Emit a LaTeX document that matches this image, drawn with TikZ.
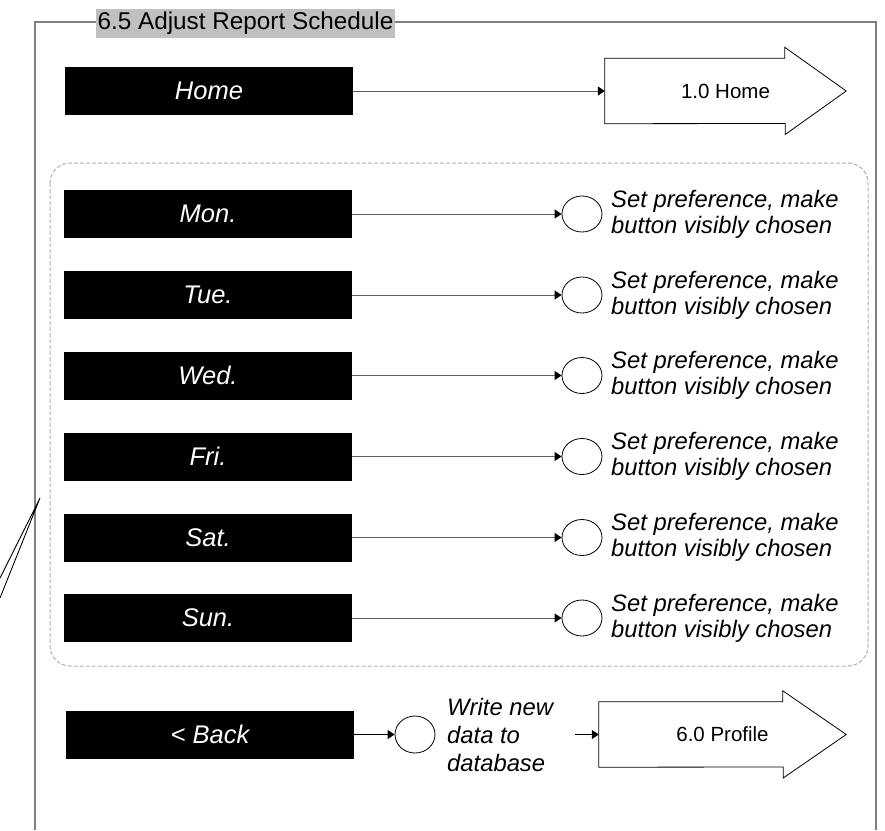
\documentclass[tikz,border=0pt]{standalone}
\usepackage{fontspec}
\setmainfont{Liberation Sans}
\usetikzlibrary{arrows.meta,shapes.geometric}
\definecolor{framec}{HTML}{808080}
\definecolor{titlegray}{HTML}{C0C0C0}
\definecolor{dashc}{HTML}{B0B0B0}
\definecolor{connc}{HTML}{606060}
\begin{document}
\begin{tikzpicture}[x=1pt,y=-1pt,
  btn/.style={fill=black,text=white,minimum width=288pt,minimum height=48pt,inner sep=0pt,font=\fontsize{25.5}{30}\selectfont\itshape},
  act/.style={draw=black,line width=0.8pt,ellipse,minimum width=40pt,minimum height=36pt,inner sep=0pt},
  note/.style={align=left,anchor=west,inner sep=0pt,font=\fontsize{23.8}{26}\selectfont\itshape},
  bigarrow/.style={minimum height=65pt,inner sep=0pt,font=\fontsize{20.5}{24}\selectfont},
  conn/.style={draw=connc,line width=1pt,-{Triangle[length=7pt,width=9pt,color=black]}},
  outline/.style={draw=black,line width=0.8pt,line join=miter}
]
\useasboundingbox (0,0) rectangle (885,830);

% frame
\draw[framec,line width=1.3pt] (35,830) -- (35,22) -- (876,22) -- (876,830);
\node[fill=titlegray,inner sep=0pt,minimum width=299pt,minimum height=29pt,font=\fontsize{24.3}{28}\selectfont] (title) at (245.5,23.5) {6.5 Adjust Report Schedule};

% callout lines on the left
\coordinate (cp) at (40,498);
\coordinate (cl1) at (0,578);
\coordinate (cl2) at (0,598);
\draw[black,line width=0.9pt] (cl1) -- (cp) -- (cl2);

% Home
\node[btn] (home) at (209,91) {Home};
\node[bigarrow,minimum width=241pt] (h1) at (725.5,91) {1.0 Home};
\draw[outline] (h1.north west) -- ++(180,0) -- ++(0,-11) -- (h1.east) -- ++(-61,43.5) -- ++(0,-11) -- (h1.south west) -- cycle;
\draw[conn] (home) -- (h1.west);

% dashed group
\draw[dashc,line width=1pt,dash pattern=on 4pt off 2pt,rounded corners=20pt] (50,163) rectangle (868,666);

% days
\foreach \n/\lab/\y in {mon/Mon./214,tue/Tue./295,wed/Wed./375.5,fri/Fri./456.5,sat/Sat./537.5,sun/Sun./618}{
  \node[btn] (\n) at (208,\y) {\lab};
  \node[act] (\n c) at (582,\y) {};
  \node[note] (\n t) at (611,\y) {Set preference, make\\button visibly chosen};
  \draw[conn] (\n) -- (\n c);
}

% Back
\node[btn] (back) at (210,734.5) {< Back};
\node[act,minimum height=37pt] (backc) at (415,734.5) {};
\node[note,font=\fontsize{23.8}{28}\selectfont\itshape] (backt) at (447,734.5) {Write new\\data to\\database};
\draw[conn,draw=black] (back) -- (backc);

\node[bigarrow,minimum width=247pt] (p1) at (722.5,734.5) {6.0 Profile};
\draw[outline] (p1.north west) -- ++(184,0) -- ++(0,-11) -- (p1.east) -- ++(-63,43.5) -- ++(0,-11) -- (p1.south west) -- cycle;
\coordinate (ps) at (575,734.5);
\draw[conn,draw=black] (ps) -- (p1.west);
\end{tikzpicture}
\end{document}
